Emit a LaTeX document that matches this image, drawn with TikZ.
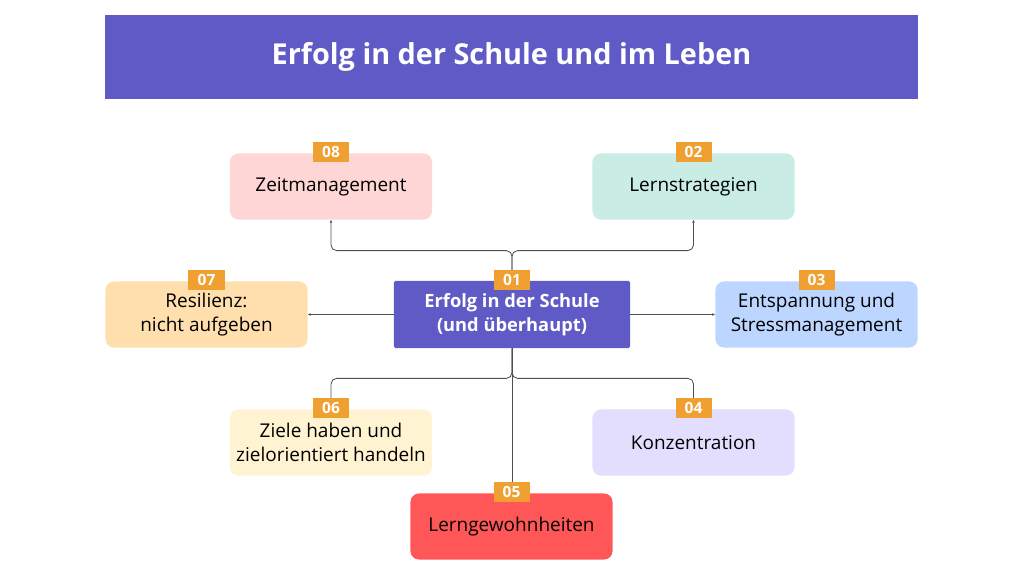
\documentclass[tikz,border=0pt]{standalone}
\usepackage{fontspec}
\setmainfont{Open Sans}
\usetikzlibrary{positioning,arrows.meta,calc}
\definecolor{mypurple}{RGB}{96,90,199}
\definecolor{myorange}{RGB}{240,160,48}
\definecolor{mypink}{RGB}{255,214,214}
\definecolor{mymint}{RGB}{201,237,228}
\definecolor{mypeach}{RGB}{255,223,174}
\definecolor{myblue}{RGB}{188,214,255}
\definecolor{mycream}{RGB}{255,243,209}
\definecolor{mylilac}{RGB}{227,222,254}
\definecolor{myred}{RGB}{255,87,87}
\definecolor{mygray}{RGB}{80,80,80}
\begin{document}
\begin{tikzpicture}[
  x=0.025cm, y=-0.025cm,
  mybox/.style={
    fill=#1,
    rounded corners=6pt,
    minimum width=5.05cm,
    minimum height=1.65cm,
    align=center,
    font=\fontsize{13.5}{17}\selectfont
    },
  mybadge/.style={
    fill=myorange,
    text=white,
    minimum width=0.9cm,
    minimum height=0.5cm,
    inner sep=0pt,
    font=\bfseries\fontsize{11}{12}\selectfont
    },
  myline/.style={
    draw=mygray,
    semithick,
    rounded corners=4pt,
    -{Latex[length=2pt,width=2pt]}
    }
]
\useasboundingbox (0,0) rectangle (1024,576);

\node[fill=mypurple, minimum width=20.33cm, minimum height=2.1cm, text=white,
  font=\bfseries\fontsize{20.5}{24}\selectfont]
  (title) at (511.5,57) {Erfolg in der Schule und im Leben};

\node[fill=mypurple, minimum width=5.9cm, minimum height=1.68cm, text=white,
  rounded corners=1pt, align=center, font=\bfseries\fontsize{13}{17}\selectfont]
  (center) at (512,314.5) {Erfolg in der Schule\\(und überhaupt)};

\node[mybox=mypink]  (zeit)    at (331,186.5) {Zeitmanagement};
\node[mybox=mymint]  (lern)    at (693.5,186.5) {Lernstrategien};
\node[mybox=mypeach] (resil)   at (206.5,314.5) {Resilienz:\\nicht aufgeben};
\node[mybox=myblue]  (entsp)   at (816.5,314.5) {Entspannung und\\Stressmanagement};
\node[mybox=mycream] (ziele)   at (331,442.5) {Ziele haben und\\zielorientiert handeln};
\node[mybox=mylilac] (konz)    at (693.5,442.5) {Konzentration};
\node[mybox=myred]   (gewohn)  at (511.5,526.5) {Lerngewohnheiten};

% connectors
\draw[myline] (center.north) -- ++(0,-30) -| (zeit.south);
\draw[myline] (center.north) -- ++(0,-30) -| (lern.south);
\draw[myline] (center.west) -- (resil.east);
\draw[myline] (center.east) -- (entsp.west);
\draw[myline] (center.south) -- ++(0,30) -| (ziele.north);
\draw[myline] (center.south) -- ++(0,30) -| (konz.north);
\draw[myline] (center.south) -- (center.south |- gewohn.north);

% badges
\foreach \Box/\Num in {center/01, lern/02, entsp/03, konz/04, gewohn/05, ziele/06, resil/07, zeit/08}
  \node[mybadge] at ($(\Box.north)+(0,-1)$) {\Num};
\end{tikzpicture}
\end{document}
